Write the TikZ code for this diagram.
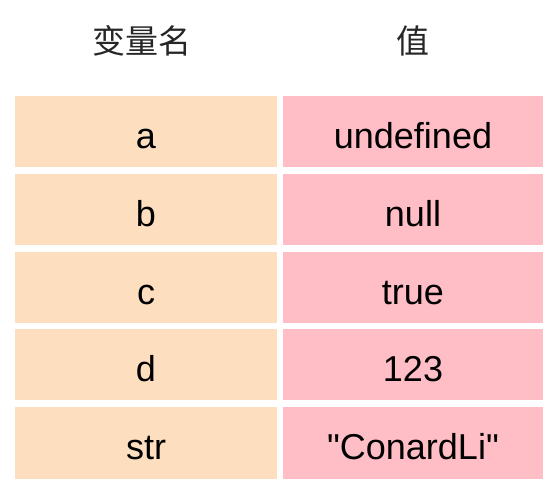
\documentclass[tikz,border=0pt]{standalone}
\usepackage{fontspec}
\setmainfont[Ligatures=TeXOff]{Liberation Sans}
\newfontfamily\cjk{Noto Sans CJK SC}
\definecolor{namecol}{HTML}{FDDFBF}
\definecolor{valcol}{HTML}{FFBEC5}
\definecolor{headtext}{HTML}{262626}
\begin{document}
\begin{tikzpicture}[x=1pt, y=-1pt]
    \tikzstyle{every node}=[inner sep=0pt, font=\fontsize{36}{40}\selectfont, text=black]
    \tikzstyle{head}=[font=\cjk\fontsize{33}{36}\selectfont, text=headtext]
    \tikzstyle{namecell}=[fill=namecol, minimum width=262pt, minimum height=71.5pt, text height=40.6pt, text depth=8pt]
    \tikzstyle{valcell}=[fill=valcol, minimum width=260pt, minimum height=71.5pt, text height=40.6pt, text depth=8pt]

    \useasboundingbox[fill=white] (0,0) rectangle (558,501);

    \node[head] (hname) at (142,41) {变量名};
    \node[head] (hval) at (413,41) {值};

    \node[namecell] (na) at (146,131.7) {a};
    \node[namecell] (nb) at (146,209.7) {b};
    \node[namecell] (nc) at (146,287.7) {c};
    \node[namecell] (nd) at (146,364.7) {d};
    \node[namecell] (nstr) at (146,443) {str};

    \node[valcell] (va) at (413,131.7) {undefined};
    \node[valcell] (vb) at (413,209.7) {null};
    \node[valcell] (vc) at (413,287.7) {true};
    \node[valcell] (vd) at (413,364.7) {123};
    \node[valcell] (vstr) at (413,443) {"ConardLi"};
\end{tikzpicture}
\end{document}
